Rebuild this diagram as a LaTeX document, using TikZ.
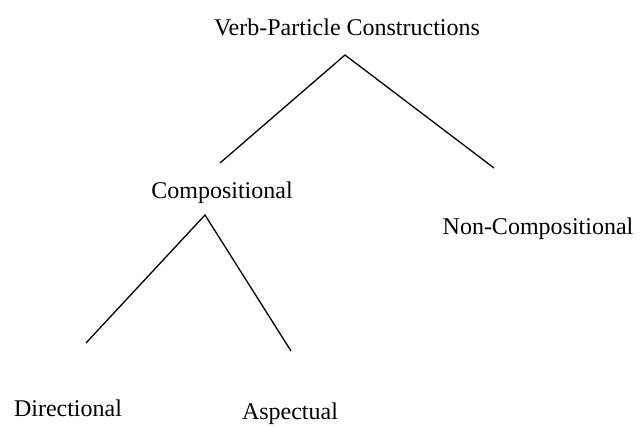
\documentclass[tikz,border=0pt]{standalone}
\usepackage{fontspec}
\setmainfont{Liberation Serif}

\begin{document}
\begin{tikzpicture}[x=1pt,y=-1pt,
  label/.style={inner sep=0pt,font=\fontsize{24}{28}\selectfont}]
  \useasboundingbox (0,0) rectangle (644,427);
  \node[label] (vpc) at (347,27) {Verb-Particle Constructions};
  \node[label] (comp) at (222,193) {Compositional};
  \node[label] (noncomp) at (538,229) {Non-Compositional};
  \node[label] (dir) at (68,408) {Directional};
  \node[label] (asp) at (290,414) {Aspectual};
  \coordinate (vpc-top) at (345,55);
  \coordinate (comp-end) at (220,163);
  \coordinate (noncomp-end) at (494,168);
  \coordinate (comp-top) at (205,215);
  \coordinate (dir-end) at (86,343);
  \coordinate (asp-end) at (291,351);
  \draw[line width=1.3pt] (comp-end) -- (vpc-top) -- (noncomp-end);
  \draw[line width=1.3pt] (dir-end) -- (comp-top) -- (asp-end);
\end{tikzpicture}
\end{document}
